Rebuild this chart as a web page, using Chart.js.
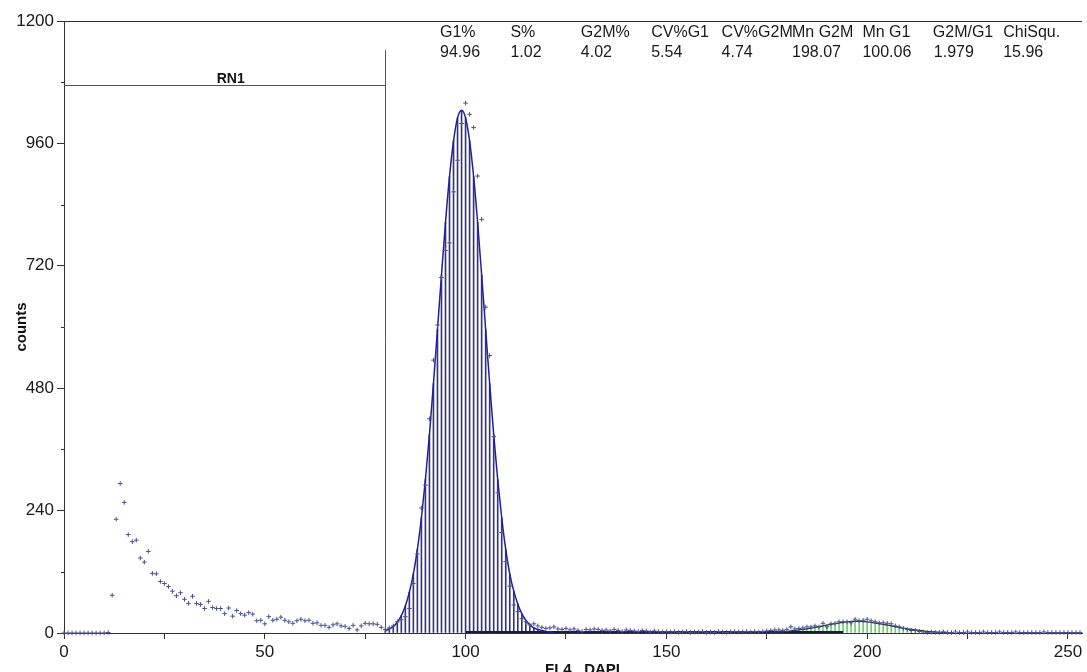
<!DOCTYPE html>
<html>
<head>
<meta charset="utf-8">
<script src="https://cdn.jsdelivr.net/npm/chart.js@4.4.1/dist/chart.umd.min.js"></script>
<style>
  html, body { margin: 0; padding: 0; background: #fff; }
  #wrap { width: 1087px; height: 672px; position: relative; }
</style>
</head>
<body>
<div id="wrap"><canvas id="histo"></canvas></div>
<script>
// channel counts, one value per channel starting at channel 0
const channelStart = 0;
const counts = [
  0, 0, 0, 0, 0, 0, 0, 0, 0, 0, 0, 1,
  74, 223, 293, 256, 193, 179, 182, 147, 139,
  160, 117, 116, 101, 97, 91, 82, 73, 79, 66,
  58, 72, 58, 56, 48, 62, 50, 48, 48, 38,
  49, 33, 44, 38, 35, 40, 37, 24, 25, 18,
  32, 25, 27, 31, 25, 22, 19, 24, 27, 24,
  25, 19, 20, 15, 15, 11, 16, 18, 14, 13,
  9, 15, 6, 14, 19, 18, 18, 17, 11, 7,
  10, 14, 22, 26, 32, 48, 97, 155, 245, 290,
  420, 535, 604, 697, 750, 765, 865, 927, 999, 1039,
  1017, 991, 896, 811, 639, 544, 385, 275, 197, 140,
  92, 55, 42, 28, 22, 16, 18, 14, 11, 9,
  10, 12, 8, 7, 9, 6, 8, 5, 3, 7,
  6, 8, 7, 5, 6, 4, 7, 5, 3, 6,
  5, 4, 3, 5, 4, 2, 4, 3, 2, 3,
  2, 3, 1, 2, 3, 1, 2, 2, 3, 1,
  2, 1, 3, 2, 1, 2, 3, 2, 2, 3,
  2, 3, 2, 3, 4, 5, 6, 6, 5, 7,
  12, 8, 9, 10, 12, 12, 14, 12, 19, 12,
  18, 19, 22, 22, 22, 20, 27, 24, 25, 27,
  24, 22, 20, 20, 19, 18, 14, 12, 9, 7,
  5, 5, 3, 2, 1, 2, 1, 1, 2, 1,
  1, 2, 1, 1, 2, 1, 1, 1, 2, 1,
  1, 1, 2, 1, 1, 1, 2, 1, 1, 1,
  1, 1, 1, 2, 1, 1, 1, 1, 1, 1, 1, 1, 1
];

// G1 model fit, channels 80..122
const g1FitStart = 80;
const g1Fit = [
  4, 8, 13, 21, 34, 53, 80, 116, 164, 226,
  301, 389, 489, 595, 702, 805, 895, 965, 1010, 1025,
  1010, 965, 895, 805, 702, 595, 489, 389, 301, 226,
  164, 116, 82, 57, 38, 25, 16, 10, 7, 5, 3, 2, 1
];

// G2M model fit, channels 176..220
const g2mFitStart = 176;
const g2mFit = [
  1, 1.5, 2, 2.5, 3, 4, 5, 6, 7, 8,
  9.5, 11, 12.5, 14, 15.5, 17, 18.5, 19.5, 21, 22,
  22.5, 23, 23, 22.5, 22, 21, 19.5, 18.5, 17, 15.5,
  14, 12.5, 11, 9.5, 8, 7, 6, 5, 4, 3,
  2.5, 2, 1.5, 1, 1
];

// S phase band
const sPhaseX = [100, 194];
const sPhaseY = [1.5, 1.5];

// RN1 region marker
const rn1Range = [0, 80];
const rn1Level = 1075;
const rn1Top = 1143;

// axis ticks
const yTicks = [0, 240, 480, 720, 960, 1200];
const yMinorTicks = [120, 360, 600, 840, 1080];
const xTicks = [0, 50, 100, 150, 200, 250];
const xMinorTicks = [25, 75, 125, 175, 225];

// stats table
const statNames = ["G1%", "S%", "G2M%", "CV%G1", "CV%G2M", "Mn G2M", "Mn G1", "G2M/G1", "ChiSqu."];
const statValues = ["94.96", "1.02", "4.02", "5.54", "4.74", "198.07", "100.06", "1.979", "15.96"];

const FONT = 'Arial, "Liberation Sans", sans-serif';

function toPoints(start, arr) {
  return arr.map((v, i) => ({ x: start + i, y: v }));
}

// lines, labels and minor ticks drawn on top
const overlay = {
  id: "overlay",
  afterDraw(chart) {
    const ctx = chart.ctx;
    const xs = chart.scales.x;
    const ys = chart.scales.y;
    const area = chart.chartArea;
    ctx.save();

    // frame top
    ctx.strokeStyle = "#333";
    ctx.lineWidth = 1;
    ctx.beginPath();
    ctx.moveTo(area.left, Math.round(area.top) + 0.5);
    ctx.lineTo(area.right, Math.round(area.top) + 0.5);
    ctx.stroke();

    // minor y ticks
    yMinorTicks.forEach((v) => {
      const y = Math.round(ys.getPixelForValue(v)) + 0.5;
      ctx.beginPath();
      ctx.moveTo(area.left - 3, y);
      ctx.lineTo(area.left, y);
      ctx.stroke();
    });

    // RN1 marker
    const x0 = xs.getPixelForValue(rn1Range[0]);
    const x1 = Math.round(xs.getPixelForValue(rn1Range[1])) + 0.5;
    const yl = Math.round(ys.getPixelForValue(rn1Level)) + 0.5;
    ctx.strokeStyle = "#555";
    ctx.beginPath();
    ctx.moveTo(x0, yl);
    ctx.lineTo(x1, yl);
    ctx.moveTo(x1, ys.getPixelForValue(rn1Top));
    ctx.lineTo(x1, ys.getPixelForValue(0));
    ctx.stroke();
    ctx.fillStyle = "#111";
    ctx.font = "bold 14px " + FONT;
    ctx.textAlign = "center";
    ctx.textBaseline = "alphabetic";
    ctx.fillText("RN1", (x0 + x1) / 2 + 6, yl - 3);

    // stats table
    ctx.font = "16px " + FONT;
    ctx.textAlign = "left";
    ctx.fillStyle = "#1a1a1a";
    statNames.forEach((name, i) => {
      const x = 440 + i * 70.4;
      ctx.fillText(name, x, 37);
      ctx.fillText(statValues[i], x + (i === 7 ? 1 : 0), 57);
    });

    // axis titles
    ctx.font = "bold 15px " + FONT;
    ctx.fillStyle = "#111";
    ctx.fillText("FL4   DAPI", 545, 674);
    ctx.translate(26, (area.top + area.bottom) / 2);
    ctx.rotate(-Math.PI / 2);
    ctx.textAlign = "center";
    ctx.fillText("counts", 0, 0);
    ctx.restore();
  },
};

const chart = new Chart(document.getElementById("histo"), {
  type: "bar",
  data: {
    datasets: [
      {
        type: "scatter",
        data: toPoints(channelStart, counts),
        pointStyle: "cross",
        pointRadius: 2.3,
        borderColor: "#4f4f92",
        borderWidth: 1,
        showLine: false,
        clip: false,
        order: 0,
      },
      {
        type: "line",
        data: toPoints(g1FitStart, g1Fit),
        borderColor: "#20209c",
        borderWidth: 1.5,
        pointRadius: 0,
        cubicInterpolationMode: "monotone",
        order: 1,
      },
      {
        type: "line",
        data: toPoints(g2mFitStart, g2mFit),
        borderColor: "#1f3a3a",
        borderWidth: 1.3,
        pointRadius: 0,
        cubicInterpolationMode: "monotone",
        order: 1,
      },
      {
        type: "line",
        data: sPhaseX.map((x, i) => ({ x: x, y: sPhaseY[i] })),
        borderColor: "#1a1a40",
        borderWidth: 2.5,
        pointRadius: 0,
        order: 1,
      },
      {
        type: "bar",
        data: toPoints(g1FitStart, g1Fit),
        backgroundColor: "#33338a",
        barThickness: 1,
        grouped: false,
        order: 2,
      },
      {
        type: "bar",
        data: toPoints(g2mFitStart, g2mFit),
        backgroundColor: "#6ccf6c",
        barThickness: 1,
        grouped: false,
        order: 2,
      },
    ],
  },
  options: {
    responsive: true,
    maintainAspectRatio: false,
    animation: false,
    layout: { padding: { top: 21, right: 0, left: 0, bottom: 0 } },
    plugins: { legend: { display: false }, tooltip: { enabled: false } },
    scales: {
      x: {
        type: "linear",
        min: 0,
        max: 253.5,
        offset: false,
        grid: { offset: false, drawOnChartArea: false, tickLength: 6, color: "#333" },
        border: { color: "#333" },
        afterBuildTicks: (s) => {
          s.ticks = xTicks.concat(xMinorTicks).sort((a, b) => a - b).map((v) => ({ value: v }));
        },
        afterFit: (s) => {
          s.height = 39;
          s.paddingLeft = 0;
          s.paddingRight = 0;
        },
        ticks: {
          autoSkip: false,
          maxRotation: 0,
          padding: 3,
          color: "#1a1a1a",
          font: { family: FONT, size: 17 },
          callback: (v) => (xTicks.includes(v) ? String(v) : ""),
        },
      },
      y: {
        min: 0,
        max: 1200,
        grid: { drawOnChartArea: false, tickLength: 7, color: "#333" },
        border: { color: "#333" },
        afterBuildTicks: (s) => {
          s.ticks = yTicks.map((v) => ({ value: v }));
        },
        afterFit: (s) => {
          s.width = 64;
          s.paddingTop = 0;
          s.paddingBottom = 0;
        },
        ticks: {
          padding: 3,
          color: "#1a1a1a",
          font: { family: FONT, size: 17 },
          callback: (v) => String(v),
        },
      },
    },
  },
  plugins: [overlay],
});
</script>
</body>
</html>
